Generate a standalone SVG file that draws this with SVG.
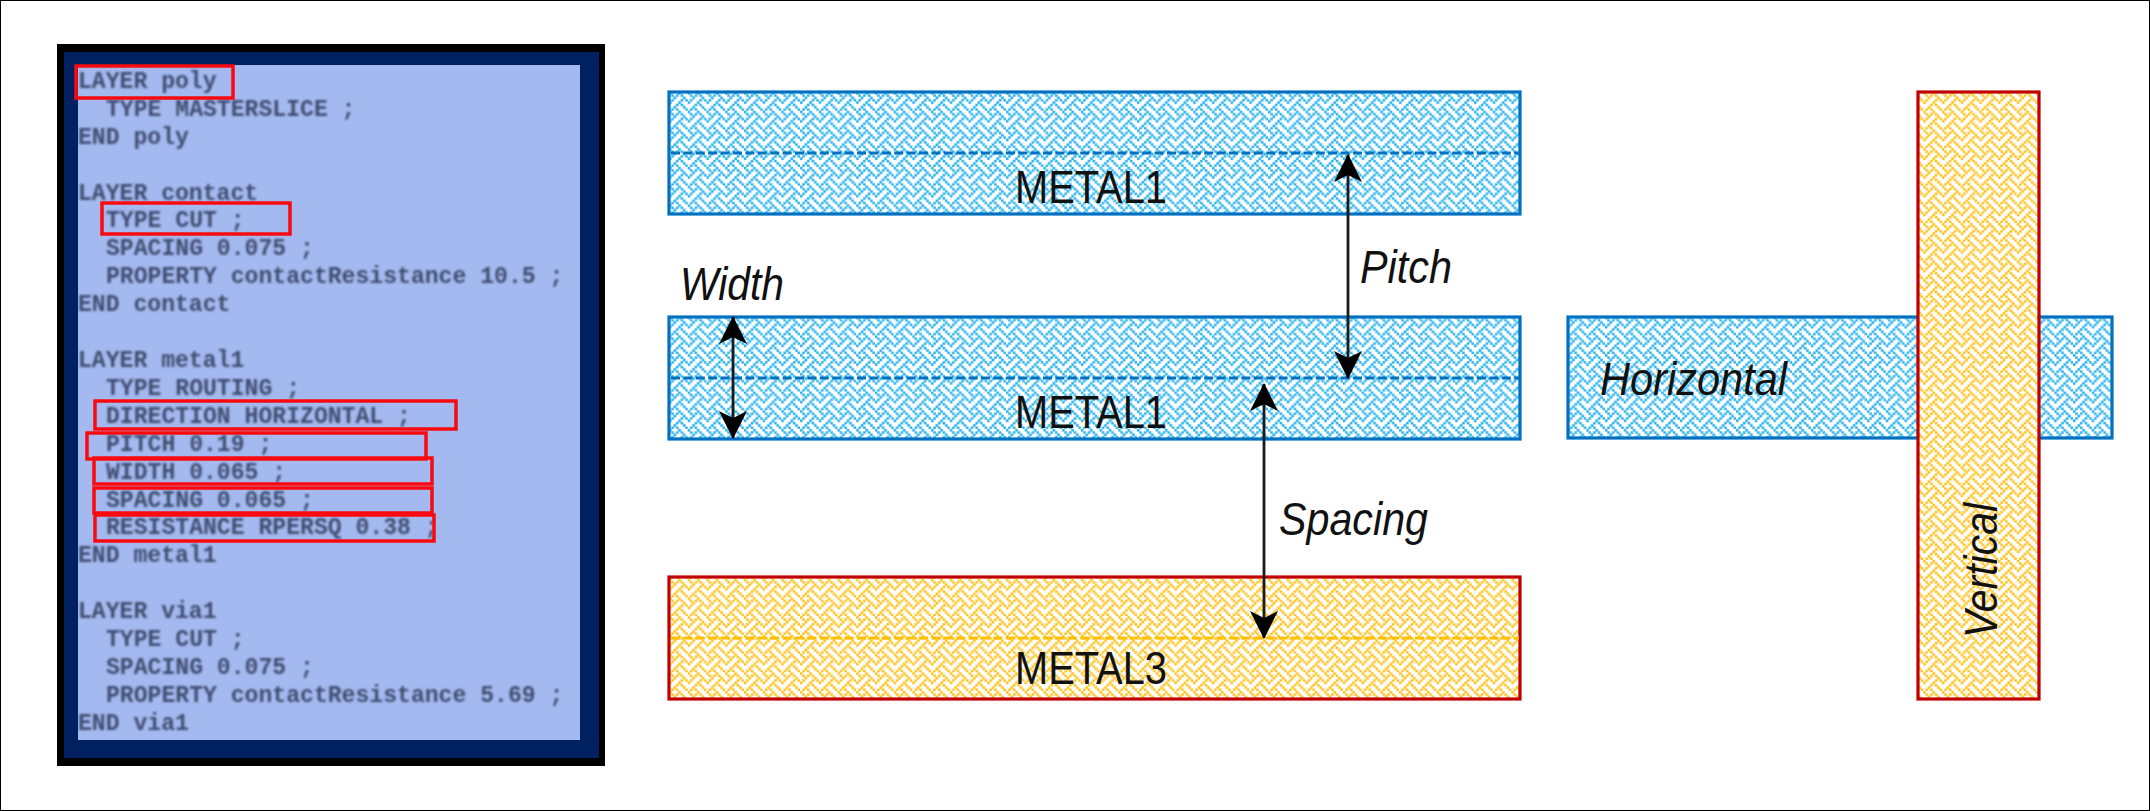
<svg xmlns="http://www.w3.org/2000/svg" width="2150" height="811" viewBox="0 0 2150 811">
<style>
.code{font-family:"Liberation Mono",monospace;font-size:23.1px;font-weight:bold;fill:#404d70;white-space:pre}
.rb{fill:none;stroke:#fa0a0f;stroke-width:3.5}
.metB{fill:url(#wb);stroke:#0070c0;stroke-width:3.2}
.metY{fill:url(#wy);stroke:#c00000;stroke-width:3.2}
.dashB{stroke:#0070c0;stroke-width:3;stroke-dasharray:9 3.4;fill:none}
.dashY{stroke:#ffc000;stroke-width:3;stroke-dasharray:9 3.4;fill:none}
.lab{font-family:"Liberation Sans",Arial,sans-serif;font-size:47px;fill:#111}
.it{font-style:italic}
.arr{stroke:#1a1a1a;stroke-width:2.8;fill:none;marker-start:url(#ah);marker-end:url(#ah)}
</style>
<defs>
<pattern id="wb" width="8" height="8" patternUnits="userSpaceOnUse" patternTransform="translate(669 92) scale(2.34)">
<rect width="8" height="8" fill="#fff"/>
<path fill="#2fb4ee" stroke="#2fb4ee" stroke-width="0.14" d="M0 0h1v1h-1zM4 0h1v1h-1zM1 1h1v1h-1zM3 1h1v1h-1zM5 1h1v1h-1zM2 2h1v1h-1zM6 2h1v1h-1zM1 3h1v1h-1zM5 3h1v1h-1zM7 3h1v1h-1zM0 4h1v1h-1zM4 4h1v1h-1zM3 5h1v1h-1zM5 5h1v1h-1zM2 6h1v1h-1zM6 6h1v1h-1zM1 7h1v1h-1zM3 7h1v1h-1zM7 7h1v1h-1z"/>
</pattern>
<pattern id="wy" width="8" height="8" patternUnits="userSpaceOnUse" patternTransform="translate(669 92) scale(2.34)">
<rect width="8" height="8" fill="#fff"/>
<path fill="#ffc31f" stroke="#ffc31f" stroke-width="0.14" d="M0 0h1v1h-1zM4 0h1v1h-1zM1 1h1v1h-1zM3 1h1v1h-1zM5 1h1v1h-1zM2 2h1v1h-1zM6 2h1v1h-1zM1 3h1v1h-1zM5 3h1v1h-1zM7 3h1v1h-1zM0 4h1v1h-1zM4 4h1v1h-1zM3 5h1v1h-1zM5 5h1v1h-1zM2 6h1v1h-1zM6 6h1v1h-1zM1 7h1v1h-1zM3 7h1v1h-1zM7 7h1v1h-1z"/>
</pattern>
<marker id="ah" viewBox="0 0 28 28" refX="27" refY="14" markerWidth="28" markerHeight="28" markerUnits="userSpaceOnUse" orient="auto-start-reverse">
<path d="M28 14L0 0L7 14L0 28z" fill="#000"/>
</marker>
<filter id="bl" x="-2%" y="-2%" width="104%" height="104%"><feGaussianBlur stdDeviation="0.95"/></filter>
</defs>
<rect x="0.5" y="0.5" width="2149" height="810" fill="#fff" stroke="#000" stroke-width="1"/>
<g id="lef-panel">
<rect x="57" y="44" width="548" height="722" fill="#000"/>
<rect x="64" y="52" width="535" height="706" fill="#002060"/>
<rect x="78" y="65" width="502" height="675" fill="#a4b9ef"/>
<g filter="url(#bl)">
<text class="code" x="78" y="88">LAYER poly</text>
<text class="code" x="106" y="116">TYPE MASTERSLICE ;</text>
<text class="code" x="78" y="144">END poly</text>
<text class="code" x="78" y="200">LAYER contact</text>
<text class="code" x="106" y="227">TYPE CUT ;</text>
<text class="code" x="106" y="255">SPACING 0.075 ;</text>
<text class="code" x="106" y="283">PROPERTY contactResistance 10.5 ;</text>
<text class="code" x="78" y="311">END contact</text>
<text class="code" x="78" y="367">LAYER metal1</text>
<text class="code" x="106" y="395">TYPE ROUTING ;</text>
<text class="code" x="106" y="423">DIRECTION HORIZONTAL ;</text>
<text class="code" x="106" y="451">PITCH 0.19 ;</text>
<text class="code" x="106" y="479">WIDTH 0.065 ;</text>
<text class="code" x="106" y="507">SPACING 0.065 ;</text>
<text class="code" x="106" y="534">RESISTANCE RPERSQ 0.38 ;</text>
<text class="code" x="78" y="562">END metal1</text>
<text class="code" x="78" y="618">LAYER via1</text>
<text class="code" x="106" y="646">TYPE CUT ;</text>
<text class="code" x="106" y="674">SPACING 0.075 ;</text>
<text class="code" x="106" y="702">PROPERTY contactResistance 5.69 ;</text>
<text class="code" x="78" y="730">END via1</text>
</g>
<rect class="rb" x="76" y="66" width="157" height="32"/>
<rect class="rb" x="102" y="203" width="188" height="31"/>
<rect class="rb" x="95" y="401" width="361" height="28"/>
<rect class="rb" x="87" y="433" width="339" height="26"/>
<rect class="rb" x="94" y="458" width="338" height="26"/>
<rect class="rb" x="94" y="488" width="338" height="25"/>
<rect class="rb" x="95" y="515" width="339" height="26"/>
</g>
<g id="metal1-top">
<rect class="metB" x="669" y="92" width="851" height="122"/>
<line class="dashB" x1="671" y1="153" x2="1519" y2="153"/>
<text class="lab" x="1015" y="203" textLength="152" lengthAdjust="spacingAndGlyphs">METAL1</text>
</g>
<g id="metal1-mid">
<rect class="metB" x="669" y="317" width="851" height="122"/>
<line class="dashB" x1="671" y1="378" x2="1519" y2="378"/>
<text class="lab" x="1015" y="428" textLength="152" lengthAdjust="spacingAndGlyphs">METAL1</text>
</g>
<g id="metal3">
<rect class="metY" x="669" y="577" width="851" height="122"/>
<line class="dashY" x1="671" y1="638" x2="1519" y2="638"/>
<text class="lab" x="1015" y="684" textLength="152" lengthAdjust="spacingAndGlyphs">METAL3</text>
</g>
<g id="horizontal">
<rect class="metB" x="1568" y="317" width="544" height="121"/>
<text class="lab it" x="1600" y="395" textLength="187" lengthAdjust="spacingAndGlyphs">Horizontal</text>
</g>
<g id="vertical">
<rect class="metY" x="1918" y="92" width="121" height="607"/>
<text class="lab it" transform="translate(1997 638) rotate(-90)" textLength="135" lengthAdjust="spacingAndGlyphs">Vertical</text>
</g>
<g id="connectors">
<line class="arr" x1="1348" y1="155" x2="1348" y2="378"/>
<line class="arr" x1="1264" y1="384" x2="1264" y2="638"/>
<line class="arr" x1="733" y1="317" x2="733" y2="438"/>
</g>
<g id="labels">
<text class="lab it" x="680" y="300" textLength="104" lengthAdjust="spacingAndGlyphs">Width</text>
<text class="lab it" x="1360" y="283" textLength="92" lengthAdjust="spacingAndGlyphs">Pitch</text>
<text class="lab it" x="1279" y="535" textLength="149" lengthAdjust="spacingAndGlyphs">Spacing</text>
</g>
</svg>
